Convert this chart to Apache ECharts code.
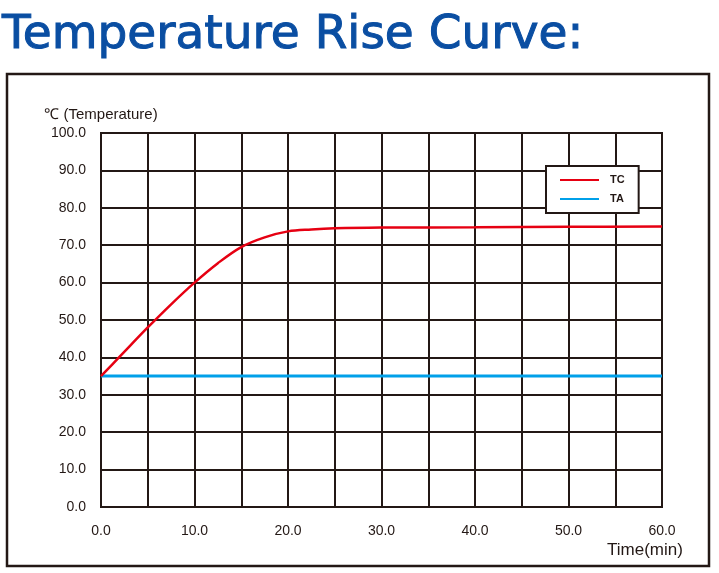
<!DOCTYPE html>
<html>
<head>
<meta charset="utf-8">
<script src="https://cdn.jsdelivr.net/npm/echarts@6/dist/echarts.min.js"></script>
<style>
html,body{margin:0;padding:0;background:#fff;}
#c{width:719px;height:573px;}
</style>
</head>
<body>
<div id="c"></div>
<script>
// ---- data ----
var titleText = "Temperature Rise Curve:";
var yAxisName = "\u2103 (Temperature)";
var xAxisName = "Time(min)";
var seriesNames = ["TC", "TA"];
var tcTime = [0, 2, 5, 7.5, 10, 12.5, 15, 17.5, 20, 22.5, 25, 30, 40, 50, 60];
var tcTemp = [35, 40.2, 48, 54.2, 60, 65.2, 69.5, 72.1, 73.7, 74.2, 74.5, 74.7, 74.8, 74.9, 75];
var taTime = [0, 60];
var taTemp = [35, 35];

var ink = "#231815";
function pairs(xs, ys){ return xs.map(function(x,i){ return [x, ys[i]]; }); }

var chart = echarts.init(document.getElementById('c'), null, {renderer:'canvas'});
chart.setOption({
  backgroundColor: '#fff',
  animation: false,
  title: {
    text: titleText, left: -3, top: 7,
    textStyle: {fontFamily: 'DejaVu Sans', fontWeight: 'normal', fontSize: 47, color: '#0a4ea2',
                textBorderColor: '#0a4ea2', textBorderWidth: 1}
  },
  graphic: [
    {type: 'rect', shape: {x: 7, y: 74, width: 702, height: 492},
     style: {fill: 'none', stroke: ink, lineWidth: 2.5}, z: 0},
    {type: 'text', left: 607, top: 542,
     style: {text: xAxisName, font: '17px "Liberation Sans"', fill: ink}}
  ],
  legend: {
    data: seriesNames,
    orient: 'vertical',
    left: 546, top: 166,
    padding: [8, 14, 8, 14],
    itemGap: 7,
    itemWidth: 39, itemHeight: 2,
    icon: 'rect',
    backgroundColor: '#fff',
    borderColor: ink, borderWidth: 2, borderRadius: 0,
    textStyle: {fontFamily: 'Liberation Sans', fontWeight: 'bold', fontSize: 11, color: ink, lineHeight: 12, padding: [0,0,0,6]}
  },
  grid: {left: 101, right: 57, top: 133, bottom: 66, show: true, borderColor: ink, borderWidth: 2},
  xAxis: {
    type: 'value', min: 0, max: 60, interval: 5,
    axisLine: {show: true, lineStyle: {color: ink, width: 2}},
    axisTick: {show: false},
    splitLine: {show: true, lineStyle: {color: ink, width: 2}},
    axisLabel: {
      margin: 17, color: ink, fontFamily: 'Liberation Sans', fontSize: 14,
      formatter: function(v){ return v % 10 === 0 ? v.toFixed(1) : ''; }
    }
  },
  yAxis: {
    type: 'value', min: 0, max: 100, interval: 10,
    name: yAxisName, nameLocation: 'end', nameGap: 11,
    nameTextStyle: {color: ink, fontFamily: 'Liberation Sans', fontSize: 15, align: 'center'},
    axisLine: {show: true, lineStyle: {color: ink, width: 2}},
    axisTick: {show: false},
    splitLine: {show: true, lineStyle: {color: ink, width: 2}},
    axisLabel: {
      margin: 15, color: ink, fontFamily: 'Liberation Sans', fontSize: 14,
      formatter: function(v){ return v.toFixed(1); }
    }
  },
  series: [
    {name: seriesNames[0], type: 'line', data: pairs(tcTime, tcTemp), smooth: 0.35,
     symbol: 'none', lineStyle: {color: '#e60012', width: 2.5}, itemStyle: {color: '#e60012'}, z: 3},
    {name: seriesNames[1], type: 'line', data: pairs(taTime, taTemp),
     symbol: 'none', lineStyle: {color: '#00a0e9', width: 3}, itemStyle: {color: '#00a0e9'}, z: 2}
  ]
});
</script>
</body>
</html>
